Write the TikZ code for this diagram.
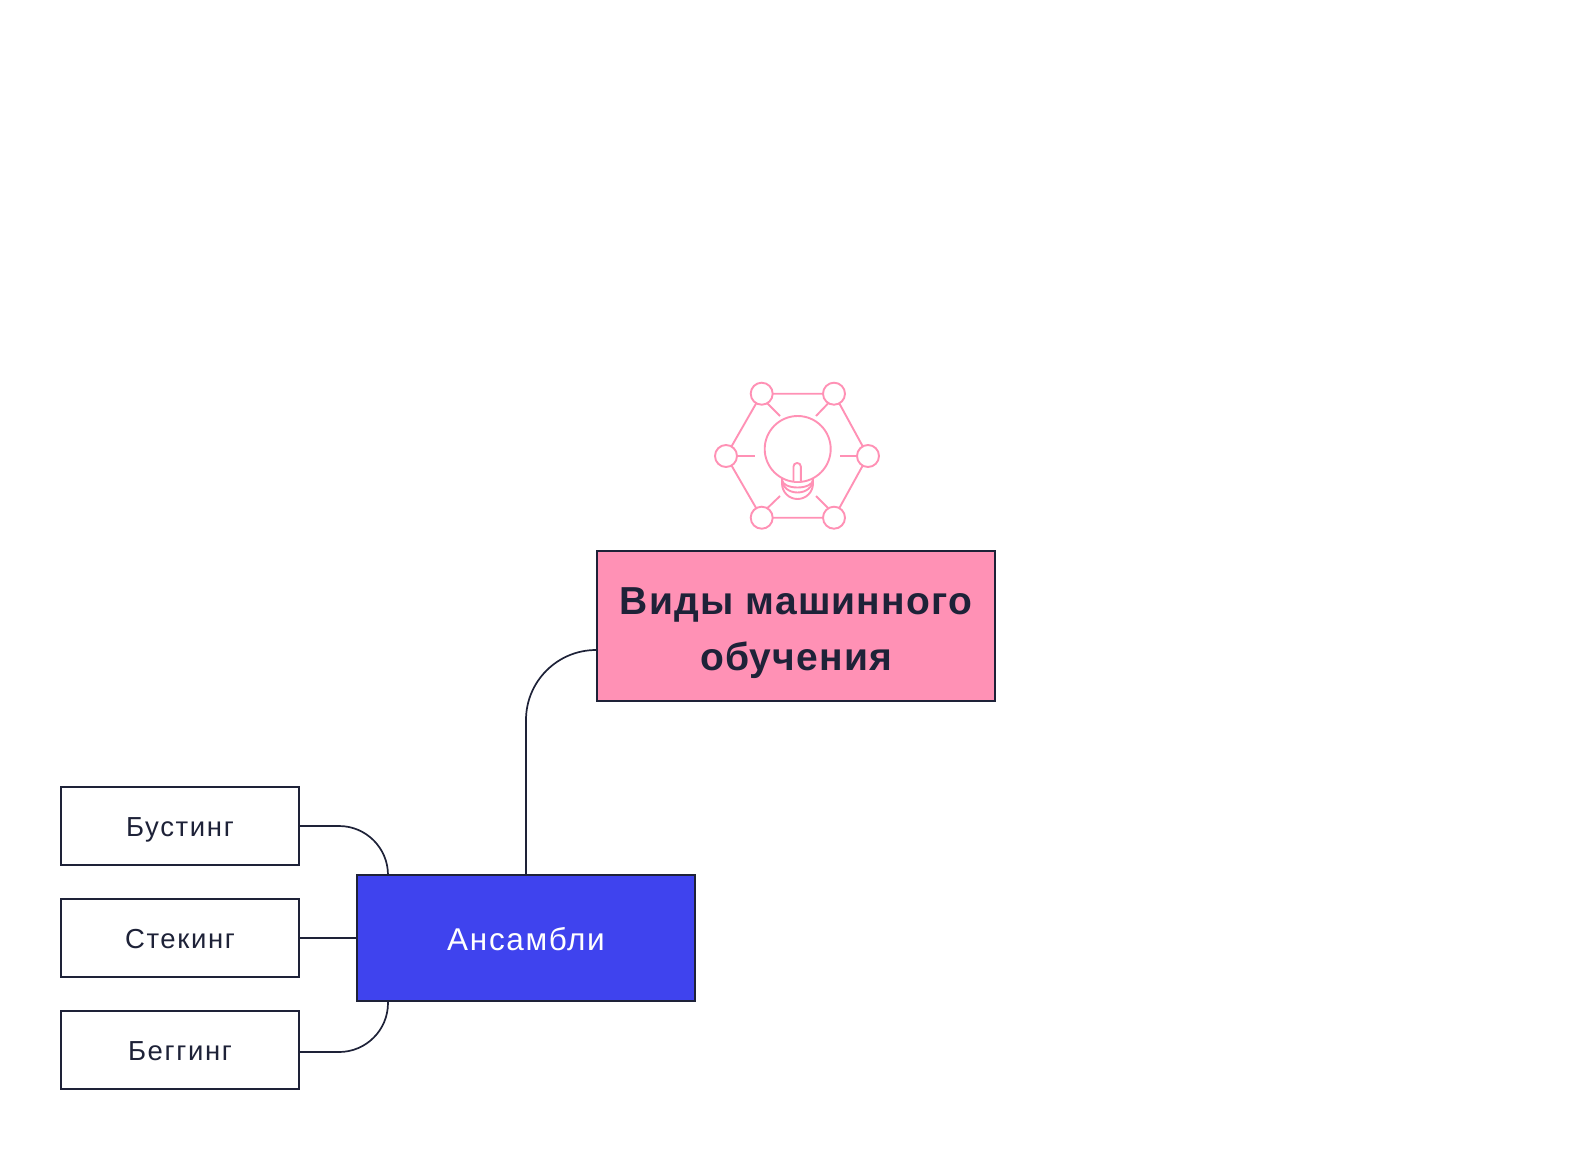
\documentclass[tikz,border=0pt]{standalone}
\usepackage{fontspec}
\setmainfont{Liberation Sans}
\usetikzlibrary{calc}
\definecolor{inkc}{HTML}{1E2238}
\definecolor{pinkc}{HTML}{FF91B5}
\definecolor{bluec}{HTML}{3F43EE}
\newfontfamily\leaffont[LetterSpace=6]{Liberation Sans}
\newfontfamily\hubfont[LetterSpace=5.5]{Liberation Sans}
\newfontfamily\rootfont[LetterSpace=3]{Liberation Sans}
\newcommand{\droptext}[2]{\raisebox{-#1pt}[0pt][0pt]{#2}}
\tikzset{
  x=1pt,y=-1pt,
  boxbase/.style={draw=inkc,line width=2pt,outer sep=0pt,inner sep=0pt,align=center},
  leafbox/.style={boxbase,fill=white,text=inkc,minimum width=238pt,minimum height=78pt,font=\leaffont\fontsize{27.5}{30}\selectfont},
  hubbox/.style={boxbase,fill=bluec,text=white,minimum width=338pt,minimum height=126pt,font=\hubfont\fontsize{31.5}{34}\selectfont},
  rootbox/.style={boxbase,fill=pinkc,text=inkc,minimum width=398pt,minimum height=150pt,font=\rootfont\bfseries\fontsize{39}{56}\selectfont},
  wire/.style={draw=inkc,line width=1.7pt},
  iconline/.style={draw=pinkc,line width=1.9pt},
  iconball/.style={circle,draw=pinkc,fill=white,line width=1.9pt,minimum size=22pt,inner sep=0pt,outer sep=0pt},
}
\begin{document}
\begin{tikzpicture}
\useasboundingbox (0,0) rectangle (1590,1152);
% nodes
\node[rootbox] (root) at (796,626) {\droptext{44}{\parbox[b]{390pt}{\centering Виды машинного\\обучения}}};
\node[hubbox] (hub) at (526,938) {\droptext{12.5}{Ансамбли}};
\node[leafbox] (boost) at (180,826) {\droptext{10}{Бустинг}};
\node[leafbox] (stack) at (180,938) {\droptext{10}{Стекинг}};
\node[leafbox] (bag) at (180,1050) {\droptext{10}{Беггинг}};
% connectors
\coordinate (rootport) at ($(root.west)+(0,24)$);
\coordinate (hubtl) at ($(hub.north west)+(31,0)$);
\coordinate (hubbl) at ($(hub.south west)+(31,0)$);
\coordinate (bagport) at ($(bag.east)+(0,2)$);
\draw[wire,rounded corners=70pt] (rootport) -- (hub.north |- rootport) -- (hub.north);
\draw[wire,rounded corners=49pt] (boost.east) -- (hubtl |- boost.east) -- (hubtl);
\draw[wire] (stack.east) -- (hub.west);
\draw[wire,rounded corners=49pt] (bagport) -- (hubbl |- bagport) -- (hubbl);
% icon
\node[iconball] (i1) at (761.7,393.7) {};
\node[iconball] (i2) at (834,393.7) {};
\node[iconball] (i3) at (868,456) {};
\node[iconball] (i4) at (834,517.7) {};
\node[iconball] (i5) at (761.7,517.7) {};
\node[iconball] (i6) at (726,456) {};
\draw[iconline] (i1)--(i2) (i2)--(i3) (i3)--(i4) (i4)--(i5) (i5)--(i6) (i6)--(i1);
\draw[iconline] (i3)--(840,456) (i6)--(755,456);
\draw[iconline] (767.5,403.5)--(780,416) (828,403.5)--(816,416) (828,508)--(816,496) (767.5,508)--(780,496);
% bulb base
\draw[iconline] (782,478) -- (782,483.5) arc[start angle=180,end angle=0,x radius=15.5,y radius=15.5] -- (813,478);
\draw[iconline] (782,480) arc[start angle=180,end angle=0,x radius=15.5,y radius=12.5];
\draw[iconline] (782,480) arc[start angle=180,end angle=0,x radius=15.5,y radius=7.5];
% bulb
\node[circle,draw=pinkc,fill=white,line width=1.9pt,minimum size=66pt,inner sep=0pt,outer sep=0pt] (bulb) at (797.7,449) {};
\draw[iconline,fill=white,rounded corners=3.5pt] (793.5,481) -- (793.5,463) -- (800.8,463) -- (800.8,481);
\end{tikzpicture}
\end{document}
